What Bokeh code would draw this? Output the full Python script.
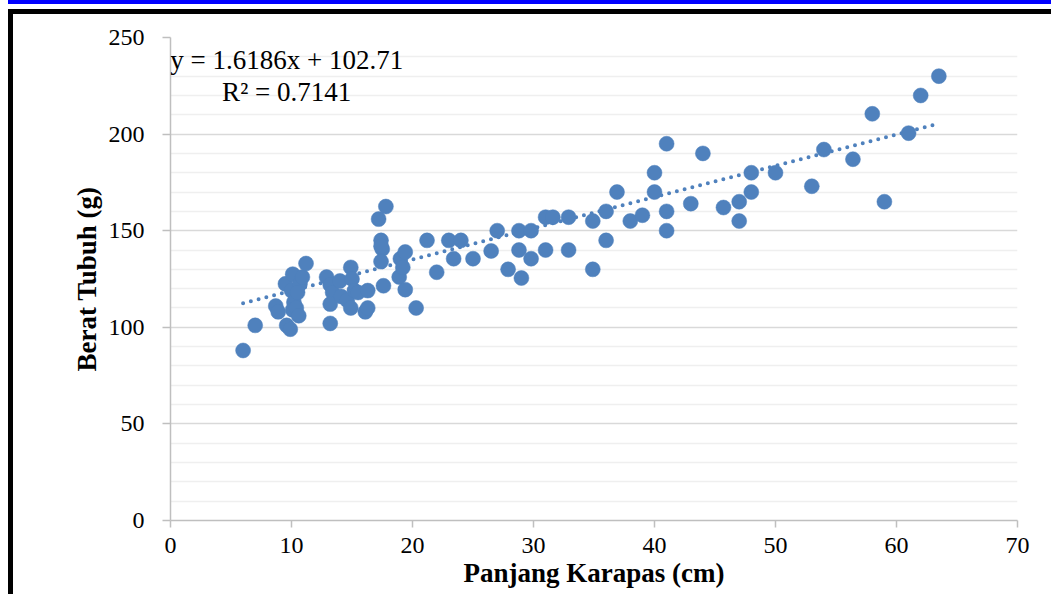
import numpy as np
from bokeh.plotting import figure
from bokeh.models import Label, Range1d, FixedTicker
from bokeh.embed import file_html
from bokeh.resources import INLINE

# ---- data ----
panjang = [6.0, 7.0, 8.7, 8.9, 9.5, 9.6, 9.9, 10.1, 10.0, 10.2, 10.1, 10.4, 10.6, 10.7, 10.9, 11.2, 10.5,
           12.9, 13.2, 13.4, 13.2, 13.2, 14.0, 14.1, 14.6, 14.9, 15.0, 15.2, 14.9, 15.5, 16.3, 16.1, 16.3,
           17.8, 17.2, 17.4, 17.5, 17.4, 17.4, 17.6, 19.0, 19.4, 18.9, 19.2, 19.4, 20.3,
           21.2, 22.0, 23.0, 24.0, 23.4, 25.0, 26.5, 27.0, 27.9, 28.8, 28.8, 29.0, 29.8, 29.8,
           31.0, 31.6, 31.0, 32.9, 32.9, 34.9, 34.9, 36.0, 36.0, 36.9, 38.0, 39.0,
           40.0, 40.0, 41.0, 41.0, 41.0, 43.0, 44.0, 45.7, 47.0, 47.0, 48.0, 48.0, 50.0,
           53.0, 54.0, 56.4, 58.0, 59.0, 61.0, 62.0, 63.5]
berat = [88, 101, 111, 108, 122.5, 101, 99, 127.5, 119, 113, 109, 110, 106, 122.5, 126, 133, 118,
         126, 122, 118, 112, 102, 124, 116, 114, 131, 125, 119, 110, 118, 119, 108, 110,
         162.5, 156, 145, 140.5, 134, 142, 121.5, 135.5, 139, 126, 131, 119.5, 110,
         145, 128.5, 145, 145, 135.5, 135.5, 139.5, 150, 130, 150, 140, 125.5, 150, 135.5,
         157, 157, 140, 157, 140, 155, 130, 160, 145, 170, 155, 158,
         180, 170, 195, 160, 150, 164, 190, 162, 165, 155, 180, 170, 180,
         173, 192, 187, 210.5, 165, 200.5, 220, 230]

# trendline as stated on the chart
trend_slope = 1.6186
trend_intercept = 102.71

x_ticks = [0, 10, 20, 30, 40, 50, 60, 70]
y_ticks = [0, 50, 100, 150, 200, 250]
y_minor = [10, 20, 30, 40, 60, 70, 80, 90, 110, 120, 130, 140, 160, 170, 180, 190, 210, 220, 230, 240]

eq_text = "y = 1.6186x + 102.71"
r2_text = "R\u00b2 = 0.7141"
x_title = "Panjang Karapas (cm)"
y_title = "Berat Tubuh (g)"

BLUE = "#4f81bd"
SERIF = "Liberation Serif"

p = figure(width=1043, height=585, x_range=Range1d(0, 70), y_range=Range1d(0, 250),
           output_backend="svg", toolbar_location=None,
           min_border_left=157, min_border_right=39, min_border_top=23, min_border_bottom=79)
p.styles = {"margin-left": "8px", "margin-top": "9px",
            "border-top": "5px solid black", "border-left": "5px solid black",
            "box-shadow": "0 -5px 0 0 white, 0 -9px 0 0 #0000ff"}
p.outline_line_color = None
p.background_fill_color = "white"
p.border_fill_color = "white"

yt = FixedTicker(ticks=y_ticks, minor_ticks=y_minor)
p.yaxis.ticker = yt
p.ygrid.ticker = yt
p.xaxis.ticker = FixedTicker(ticks=x_ticks, minor_ticks=[])
p.xgrid.visible = False
p.ygrid.grid_line_color = "#d9d9d9"
p.ygrid.grid_line_width = 1.5
p.ygrid.minor_grid_line_color = "#efefef"
p.ygrid.minor_grid_line_width = 1.5

for ax in (p.xaxis[0], p.yaxis[0]):
    ax.axis_line_color = "#bfbfbf"
    ax.axis_line_width = 1.5
    ax.major_tick_line_color = "#bfbfbf"
    ax.major_tick_line_width = 1.5
    ax.major_tick_in = 0
    ax.minor_tick_line_color = None
    ax.major_label_text_font = SERIF
    ax.major_label_text_font_size = "24px"
    ax.major_label_text_color = "black"
    ax.axis_label_text_font = SERIF
    ax.axis_label_text_font_size = "27px"
    ax.axis_label_text_font_style = "bold"
    ax.axis_label_text_color = "black"
p.yaxis.major_tick_out = 8
p.xaxis.major_tick_out = 7
p.yaxis.major_label_standoff = 18
p.xaxis.major_label_standoff = 10

p.yaxis.axis_label = y_title
p.yaxis.axis_label_standoff = 4
p.xaxis.axis_label = x_title
p.xaxis.axis_label_standoff = 2

# trendline
tx = [min(panjang), max(panjang) - 0.1]
ty = [trend_slope * v + trend_intercept for v in tx]
p.line(tx, ty, line_color=BLUE, line_width=4, line_dash="0 8", line_cap="round")

p.scatter(panjang, berat, size=15, fill_color=BLUE, line_color=BLUE, line_width=0.5)

p.add_layout(Label(x=9.6, y=238.1, text=eq_text, text_align="center", text_baseline="alphabetic",
                   text_font=SERIF, text_font_size="27px", text_color="black"))
p.add_layout(Label(x=9.6, y=221.7, text=r2_text, text_align="center", text_baseline="alphabetic",
                   text_font=SERIF, text_font_size="27px", text_color="black"))

open("out.html", "w").write(file_html(p, INLINE))
